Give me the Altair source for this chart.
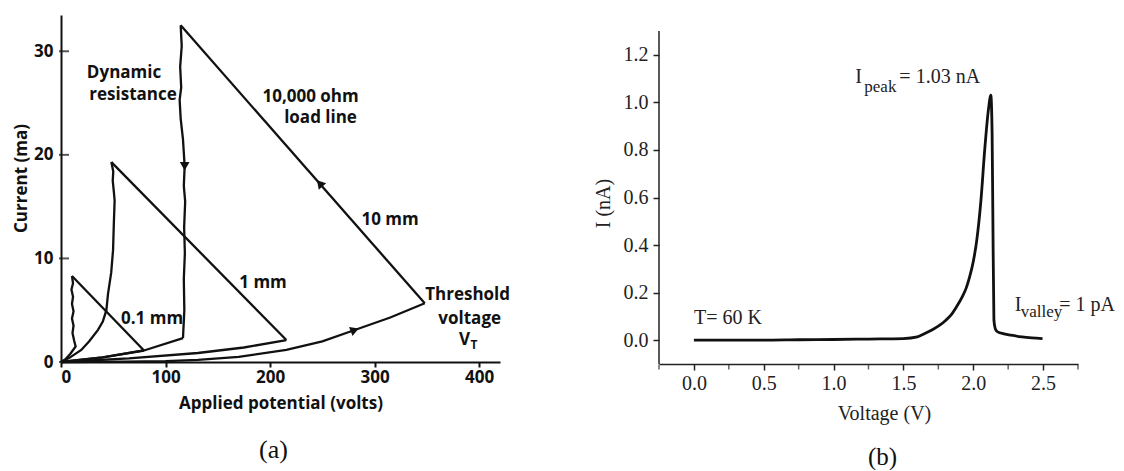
import altair as alt
import pandas as pd

# ---------------- panel (a): discharge loops for three gap lengths ----------------
# each loop: rise to threshold, jump along the 10,000 ohm load line, fall along
# the dynamic-resistance branch, back to the origin
seg_names = [
    "0.1 rise", "0.1 load", "0.1 dyn",
    "1 rise", "1 load", "1 dyn",
    "10 rise", "10 load", "10 dyn", "10 back",
]
seg_v = [
    [0, 40, 79.4],
    [79.4, 10.5],
    [10.5, 11.5, 10, 11.5, 10.5, 12, 10.5, 12, 11, 12.5, 14, 9, 4, 0],
    [0, 65, 131, 175, 215.6],
    [215.6, 48.2],
    [48.2, 50, 49.5, 50.5, 51.3, 50.5, 49.8, 48, 45, 43.4, 40, 35.4, 27, 19.4, 8, 0],
    [0, 60, 100, 131, 170, 215.6, 250, 281, 315, 348],
    [348, 114.5],
    [114.5, 115.5, 114, 115, 113.5, 114.5, 116.7, 117.5, 118.3, 117.5, 118.8, 117.8, 118.5, 117.5, 118, 116.7],
    [116.7, 79.4, 40, 0],
]
seg_i = [
    [0, 0.45, 1.11],
    [1.11, 8.3],
    [8.3, 7.6, 7.0, 6.3, 5.6, 4.9, 4.2, 3.5, 2.8, 2.1, 1.5, 0.8, 0.25, 0],
    [0, 0.35, 0.87, 1.4, 2.12],
    [2.12, 19.3],
    [19.3, 18.4, 17.5, 16.5, 15.6, 13.2, 10.8, 8.6, 6.6, 5.0, 3.9, 3.1, 2.0, 1.16, 0.4, 0],
    [0, 0.03, 0.08, 0.2, 0.5, 1.16, 2.0, 3.09, 4.3, 5.67],
    [5.67, 32.5],
    [32.5, 30.5, 28.5, 26.5, 25.3, 23.5, 21.5, 20.2, 18.9, 17, 15.5, 13, 10.5, 8, 5, 2.3],
    [2.3, 1.11, 0.45, 0],
]

# direction arrows on the 10 mm loop (angle = screen heading, clockwise from up)
arrow_v = [247.5, 118.3, 281]
arrow_i = [17.25, 18.9, 3.09]
arrow_angle = [319, 180, 69]

ann_a_text = ["Dynamic", "resistance", "10,000 ohm", "load line", "10 mm", "1 mm",
              "0.1 mm", "Threshold", "voltage", "V"]
ann_a_v = [60.3, 68.9, 238.8, 248.3, 314.8, 193.3, 87.1, 389, 391, 386]
ann_a_i = [27.9, 25.8, 25.6, 23.6, 13.7, 7.6, 4.15, 6.47, 4.15, 2.1]
sub_a_text = ["T"]
sub_a_v = [386]
sub_a_i = [2.1]

xa_ticks = [0, 100, 200, 300, 400]
ya_ticks = [0, 10, 20, 30]

# ---------------- panel (b): resonant tunnelling peak at 60 K ----------------
vb = [0.0, 0.25, 0.5, 0.75, 1.0, 1.25, 1.5, 1.6, 1.653, 1.70, 1.76, 1.80, 1.84,
      1.88, 1.921, 1.95, 1.974, 2.0, 2.025, 2.055, 2.082, 2.108, 2.126, 2.135,
      2.14, 2.148, 2.16, 2.175, 2.22, 2.27, 2.349, 2.42, 2.496]
ib = [0.0, 0.0, 0.0, 0.002, 0.003, 0.005, 0.007, 0.014, 0.028, 0.042, 0.063, 0.082,
      0.105, 0.14, 0.182, 0.22, 0.266, 0.33, 0.42, 0.588, 0.80, 0.966, 1.03, 0.87,
      0.55, 0.084, 0.045, 0.035, 0.027, 0.021, 0.014, 0.01, 0.007]

xb_labels = [0.0, 0.5, 1.0, 1.5, 2.0, 2.5]
xb_minor = [-0.25, 0.25, 0.75, 1.25, 1.75, 2.25, 2.75]
yb_ticks = [0.0, 0.1, 0.2, 0.3, 0.4, 0.5, 0.6, 0.7, 0.8, 0.9, 1.0, 1.1, 1.2]
YB_MIN, YB_AXIS_TOP, YB_VIEW_TOP = -0.1, 1.3, 1.3673

ann_b_text = ["T= 60 K", "I", "= 1.03 nA", "I", "= 1 pA"]
ann_b_v = [0.0, 1.155, 1.471, 2.297, 2.616]
ann_b_i = [0.092, 1.106, 1.106, 0.147, 0.147]
sub_b_text = ["peak", "valley"]
sub_b_v = [1.22, 2.34]
sub_b_i = [1.064, 0.118]

# ---------------- tables ----------------
rows = []
for name, vs, cs in zip(seg_names, seg_v, seg_i):
    for k, (v, c) in enumerate(zip(vs, cs)):
        rows.append({"seg": name, "k": k, "v": v, "i": c})
df_a = pd.DataFrame(rows)
df_arrow = pd.DataFrame({"v": arrow_v, "i": arrow_i, "ang": arrow_angle})
df_ann_a = pd.DataFrame({"v": ann_a_v, "i": ann_a_i, "t": ann_a_text})
df_sub_a = pd.DataFrame({"v": sub_a_v, "i": sub_a_i, "t": sub_a_text})
df_yticks_a = pd.DataFrame({"v": [0] * len(ya_ticks), "i": ya_ticks})

df_b = pd.DataFrame({"k": range(len(vb)), "v": vb, "i": ib})
df_ann_b = pd.DataFrame({"v": ann_b_v, "i": ann_b_i, "t": ann_b_text})
df_sub_b = pd.DataFrame({"v": sub_b_v, "i": sub_b_i, "t": sub_b_text})
df_axis_b = pd.DataFrame({"y0": [YB_MIN], "y1": [YB_AXIS_TOP]})
df_minor_b = pd.DataFrame({"v": xb_minor, "i": [YB_MIN] * len(xb_minor)})

SANS = "Open Sans"
SERIF = "Liberation Serif"
INK = "#111111"
GREY = "#222222"

xa = alt.X("v:Q", scale=alt.Scale(domain=[0, 420], nice=False, zero=False),
           axis=alt.Axis(values=xa_ticks, title="Applied potential (volts)",
                         labelFont=SANS, labelFontWeight="bold", labelFontSize=17,
                         labelColor=INK, labelPadding=2, tickSize=5, tickWidth=2,
                         tickColor=INK, domainColor=INK, domainWidth=2,
                         titleFont=SANS, titleFontWeight="bold", titleFontSize=17,
                         titleColor=INK, titleY=41, titleBaseline="middle"))
ya = alt.Y("i:Q", scale=alt.Scale(domain=[0, 33.5], nice=False, zero=False),
           axis=alt.Axis(values=ya_ticks, title="Current (ma)", ticks=False,
                         labelFont=SANS, labelFontWeight="bold", labelFontSize=17,
                         labelColor=INK, labelPadding=8, domainColor=INK, domainWidth=2,
                         titleFont=SANS, titleFontWeight="bold", titleFontSize=17,
                         titleColor=INK, titleX=-40, titleY=163, titleAngle=-90,
                         titleAlign="center", titleBaseline="middle"))

loops = alt.Chart(df_a).mark_line(color=INK, strokeWidth=2.3).encode(
    x=xa, y=ya, detail="seg:N", order="k:Q")
ytick_marks = alt.Chart(df_yticks_a).mark_tick(
    orient="horizontal", size=10, thickness=2, xOffset=3, color=INK).encode(x="v:Q", y="i:Q")
arrows = alt.Chart(df_arrow).mark_point(
    shape="triangle-up", filled=True, size=95, color=INK, opacity=1).encode(
    x="v:Q", y="i:Q", angle=alt.Angle("ang:Q", scale=None))
labels_a = alt.Chart(df_ann_a).mark_text(
    font=SANS, fontWeight="bold", fontSize=17, color=INK, align="center",
    baseline="middle").encode(x="v:Q", y="i:Q", text="t:N")
sub_a = alt.Chart(df_sub_a).mark_text(
    font=SANS, fontWeight="bold", fontSize=12, color=INK, align="left",
    baseline="middle", dx=6, dy=5).encode(x="v:Q", y="i:Q", text="t:N")

panel_a = alt.layer(loops, ytick_marks, arrows, labels_a, sub_a).properties(
    width=439, height=347,
    title=alt.TitleParams("(a)", orient="bottom", frame="group", anchor="middle",
                          font=SERIF, fontSize=26, fontWeight="normal", color=INK,
                          dx=-7, offset=26))

xb = alt.X("v:Q", scale=alt.Scale(domain=[-0.25, 2.75], nice=False, zero=False),
           axis=alt.Axis(values=xb_labels, title="Voltage (V)", format=".1f",
                         labelOverlap=False,
                         labelFont=SERIF, labelFontSize=20, labelColor=GREY,
                         labelPadding=3, tickSize=6, tickWidth=1.5, tickColor=GREY,
                         domainColor=GREY, domainWidth=1.5,
                         titleFont=SERIF, titleFontSize=20, titleFontWeight="normal",
                         titleColor=GREY, titleX=225, titleY=49,
                         titleBaseline="middle"))
yb = alt.Y("i:Q", scale=alt.Scale(domain=[YB_MIN, YB_VIEW_TOP], nice=False, zero=False),
           axis=alt.Axis(values=yb_ticks, title="I (nA)", domain=False, labelOverlap=False,
                         labelExpr="(round(datum.value*10) % 2 == 0) ? format(datum.value, '.1f') : ''",
                         labelFont=SERIF, labelFontSize=20, labelColor=GREY,
                         labelPadding=5, tickSize=6, tickWidth=1.5, tickColor=GREY,
                         titleFont=SERIF, titleFontSize=20, titleFontWeight="normal",
                         titleColor=GREY, titleX=-56, titleY=188, titleAngle=-90,
                         titleAlign="center", titleBaseline="middle"))

curve_b = alt.Chart(df_b).mark_line(color=INK, strokeWidth=2.8, interpolate="monotone").encode(
    x=xb, y=yb, order="k:Q")
yaxis_b = alt.Chart(df_axis_b).mark_rule(color=GREY, strokeWidth=1.5).encode(
    x=alt.value(0), y="y0:Q", y2="y1:Q")
minor_b = alt.Chart(df_minor_b).mark_tick(
    orient="vertical", size=5, thickness=1.5, yOffset=3, color=GREY).encode(x="v:Q", y="i:Q")
labels_b = alt.Chart(df_ann_b).mark_text(
    font=SERIF, fontSize=20, color=GREY, align="left", baseline="middle").encode(
    x="v:Q", y="i:Q", text="t:N")
sub_b = alt.Chart(df_sub_b).mark_text(
    font=SERIF, fontSize=17, color=GREY, align="left", baseline="middle").encode(
    x="v:Q", y="i:Q", text="t:N")

panel_b = alt.layer(curve_b, yaxis_b, minor_b, labels_b, sub_b).properties(
    width=419, height=349,
    title=alt.TitleParams("(b)", orient="bottom", frame="group", anchor="middle",
                          font=SERIF, fontSize=25, fontWeight="normal", color=INK,
                          dx=14, offset=22))

chart = alt.hconcat(panel_a, panel_b, spacing=159, bounds="flush").properties(
    padding={"left": 12, "top": 15, "right": 0, "bottom": 0},
    background="white",
).configure_view(stroke=None).configure_axis(grid=False)

chart.save("out.html", embed_options={"renderer": "svg", "actions": False})
